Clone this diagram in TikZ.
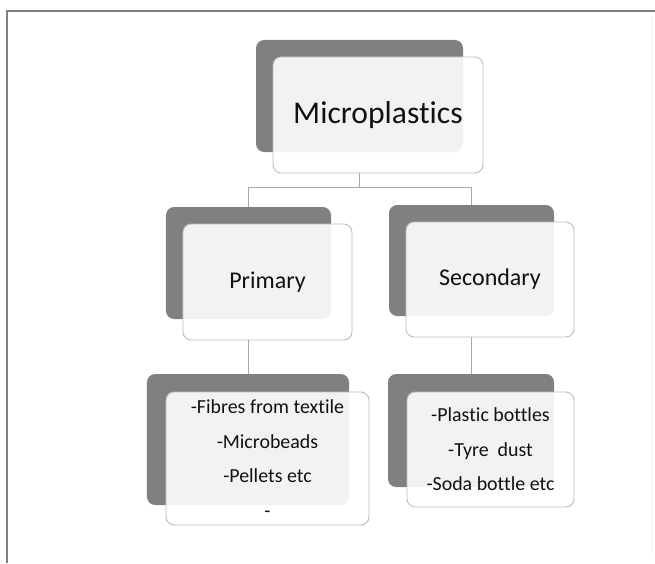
\documentclass[tikz,border=0pt]{standalone}
\usepackage{fontspec}
\setmainfont{Carlito}[RawFeature={-liga;-clig;-dlig}]
\usepackage{tikz}

\definecolor{boxdark}{HTML}{808080}
\definecolor{boxline}{HTML}{BDBDBD}
\definecolor{linkgray}{HTML}{A8A8A8}
\definecolor{txt}{HTML}{111111}

\begin{document}
\begin{tikzpicture}[x=0.03cm, y=-0.03cm,
  backbox/.style={rectangle, rounded corners=7pt, fill=boxdark, inner sep=0pt, outer sep=0pt},
  frontbox/.style={rectangle, rounded corners=7pt, draw=boxline, line width=0.8pt, fill=white, fill opacity=0.9, text opacity=1, inner sep=0pt, outer sep=0pt, align=center, text=txt},
  link/.style={draw=linkgray, line width=0.7pt}]
  \useasboundingbox (0,0) rectangle (655,563);

  % Cadre
  \draw[boxdark, line width=2.4pt] (7,563) -- (7,11) -- (655,11);
  \draw[gray!7, line width=1pt] (652,17) -- (652,553);

  % Boîte du haut
  \node[backbox, minimum width=6.21cm, minimum height=3.36cm] (microback) at (359.5,96) {};
  \node[frontbox, minimum width=6.3cm, minimum height=3.48cm, font=\fontsize{27}{32}\selectfont] (micro) at (378,115) {Microplastics};

  % Deuxième niveau
  \node[backbox, minimum width=4.95cm, minimum height=3.36cm] (primback) at (248.5,263) {};
  \node[frontbox, minimum width=5.07cm, minimum height=3.48cm, font=\fontsize{20.5}{24}\selectfont] (prim) at (267.5,282) {Primary};
  \node[backbox, minimum width=4.95cm, minimum height=3.33cm] (secback) at (471.5,260.5) {};
  \node[frontbox, minimum width=5.04cm, minimum height=3.45cm, font=\fontsize{20.5}{24}\selectfont] (sec) at (490,279.5) {Secondary};

  % Listes
  \node[backbox, minimum width=6.06cm, minimum height=3.93cm] (primlistback) at (248,439.5) {};
  \node[frontbox, minimum width=6.09cm, minimum height=3.99cm, font=\fontsize{17}{29.5}\selectfont] (primlist) at (267.5,458.5)
    {-Fibres from textile\\-Microbeads\\-Pellets etc\\-};
  \node[backbox, minimum width=4.98cm, minimum height=3.39cm] (seclistback) at (471,430.5) {};
  \node[frontbox, minimum width=5.01cm, minimum height=3.45cm, font=\fontsize{17}{29.5}\selectfont] (seclist) at (490.5,449.5)
    {-Plastic bottles\\-Tyre\ \ dust\\-Soda bottle etc};

  % Liaisons
  \draw[link] (microback |- micro.south) -- ++(0,14) -| (primback.north);
  \draw[link] (microback |- micro.south) -- ++(0,14) -| (secback.north);
  \draw[link] (primback |- prim.south) -- (primback |- primlistback.north);
  \draw[link] (secback |- sec.south) -- (secback |- seclistback.north);
\end{tikzpicture}
\end{document}
